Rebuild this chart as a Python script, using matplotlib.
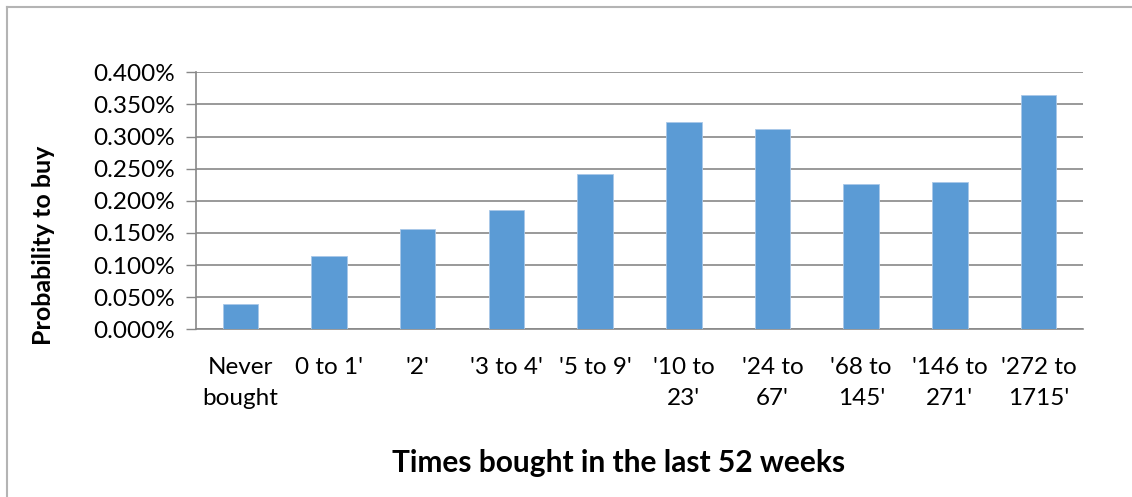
import matplotlib
matplotlib.use("Agg")
import matplotlib.pyplot as plt
from matplotlib.lines import Line2D
from matplotlib.ticker import FuncFormatter, MultipleLocator

categories = ["Never\nbought", "0 to 1'", "'2'", "'3 to 4'", "'5 to 9'",
              "'10 to\n23'", "'24 to\n67'", "'68 to\n145'", "'146 to\n271'", "'272 to\n1715'"]
probability = [0.040, 0.114, 0.156, 0.185, 0.242, 0.322, 0.312, 0.226, 0.229, 0.365]  # percent

plt.rcParams["font.family"] = ["Lato", "DejaVu Sans"]

fig = plt.figure(figsize=(11.32, 4.97), dpi=100)
ax = fig.add_axes([0.1731, 0.3374, 0.7836, 0.5171])

x = range(len(categories))
ax.bar(x, probability, width=0.4, color="#5B9BD5", edgecolor="#A9C8E8", linewidth=0.6, zorder=3)

ax.set_xlim(-0.5, len(categories) - 0.5)
ax.set_ylim(0, 0.4)
ax.yaxis.set_major_locator(MultipleLocator(0.05))
ax.yaxis.set_major_formatter(FuncFormatter(lambda v, _: f"{v:.3f}%"))
ax.grid(axis="y", color="#888888", linewidth=1.2, zorder=0)
ax.set_axisbelow(True)

for side in ("top", "right"):
    ax.spines[side].set_visible(False)
ax.spines["left"].set_color("#888888")
ax.spines["bottom"].set_color("#888888")
ax.spines["left"].set_linewidth(1.2)
ax.spines["bottom"].set_linewidth(1.2)

ax.set_xticks(list(x))
ax.set_xticklabels(categories, fontsize=17.5, linespacing=1.6, va="top")
ax.tick_params(axis="x", length=0, pad=20)
ax.tick_params(axis="y", length=7, width=1.0, color="#888888", labelsize=17.5, pad=8)

fig.text(0.038, 0.506, "Probability to buy", rotation=90, ha="center", va="center",
         fontsize=18, fontweight="bold")
fig.text(0.546, 0.068, "Times bought in the last 52 weeks", ha="center", va="center",
         fontsize=21.5, fontweight="bold")

# chart-area border (top and left edges)
fig.add_artist(Line2D([0.006, 1.0], [0.986, 0.986], transform=fig.transFigure,
                      color="#B4B4B4", linewidth=1.5))
fig.add_artist(Line2D([0.006, 0.006], [0.0, 0.986], transform=fig.transFigure,
                      color="#B4B4B4", linewidth=1.5))

fig.savefig("out.png", dpi=100)
